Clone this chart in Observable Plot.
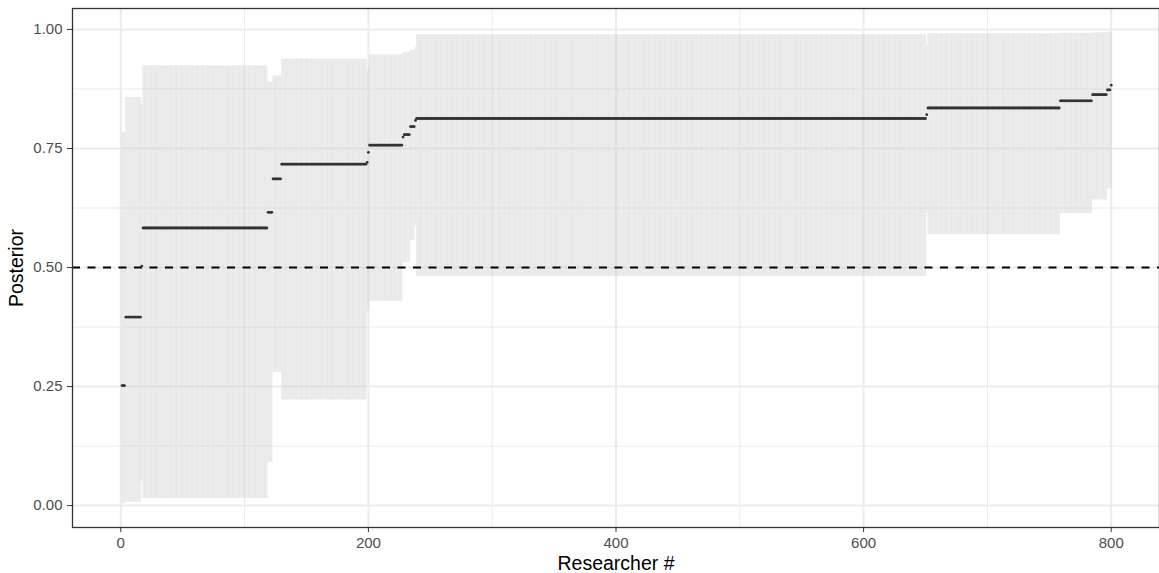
<!DOCTYPE html>
<html>
<head>
<meta charset="utf-8">
<script src="https://cdn.jsdelivr.net/npm/d3@7"></script>
<script src="https://cdn.jsdelivr.net/npm/@observablehq/plot@0.6"></script>
<style>
  html, body { margin: 0; padding: 0; background: #fff; }
  #chart svg { display: block; font-family: "Liberation Sans", Arial, Helvetica, sans-serif; }
</style>
</head>
<body>
<div id="chart"></div>
<script>
// Runs of researchers sharing the same posterior and interval
const runStart = [1, 4, 17, 18, 119, 123, 130, 199, 200, 201, 228, 229, 234, 238, 239, 651, 652, 759, 785, 797, 800];
const runEnd   = [3, 16, 17, 118, 122, 129, 198, 199, 200, 227, 228, 233, 237, 238, 650, 651, 758, 784, 796, 799, 800];
const runPosterior = [0.252, 0.396, 0.503, 0.583, 0.616, 0.686, 0.717, 0.721, 0.742, 0.757, 0.774, 0.779, 0.796, 0.809, 0.813, 0.821, 0.835, 0.850, 0.863, 0.873, 0.883];
const runLower = [0.004, 0.007, 0.050, 0.015, 0.091, 0.280, 0.222, 0.405, 0.410, 0.429, 0.510, 0.510, 0.557, 0.588, 0.481, 0.615, 0.569, 0.613, 0.642, 0.665, 0.665];
const runUpper = [0.784, 0.857, 0.842, 0.924, 0.889, 0.902, 0.938, 0.914, 0.921, 0.947, 0.952, 0.952, 0.957, 0.963, 0.989, 0.966, 0.991, 0.992, 0.993, 0.994, 0.995];

const xTicks = [0, 200, 400, 600, 800];
const xMinor = [100, 300, 500, 700];
const yTicks = [0, 0.25, 0.5, 0.75, 1];
const yMinor = [0.125, 0.375, 0.625, 0.875];
const threshold = [0.5];

const data = runStart.flatMap((s, i) =>
  d3.range(s, runEnd[i] + 1).map(r => ({
    researcher: r, posterior: runPosterior[i], lower: runLower[i], upper: runUpper[i]
  }))
);

const chart = Plot.plot({
  width: 1159,
  height: 573,
  marginLeft: 72,
  marginRight: 0,
  marginTop: 8,
  marginBottom: 46,
  x: { domain: [-39, 839] },
  y: { domain: [-0.046, 1.044] },
  marks: [
    Plot.gridX({ ticks: xMinor, stroke: "#ebebeb", strokeOpacity: 1, strokeWidth: 1 }),
    Plot.gridY({ ticks: yMinor, stroke: "#ebebeb", strokeOpacity: 1, strokeWidth: 1 }),
    Plot.gridX({ ticks: xTicks, stroke: "#ebebeb", strokeOpacity: 1, strokeWidth: 2 }),
    Plot.gridY({ ticks: yTicks, stroke: "#ebebeb", strokeOpacity: 1, strokeWidth: 2 }),
    Plot.ruleX(data, { x: "researcher", y1: "lower", y2: "upper", stroke: "#cfcfcf", strokeOpacity: 0.45, strokeWidth: 1.2 }),
    Plot.ruleY(threshold, { stroke: "black", strokeWidth: 1.9, strokeDasharray: "8,7.5" }),
    Plot.dot(data, { x: "researcher", y: "posterior", r: 1.4, fill: "#333", stroke: "none" }),
    Plot.frame({ stroke: "#333", strokeWidth: 1.3 }),
    Plot.axisX({ ticks: xTicks, tickSize: 5, tickPadding: 5, fontSize: 15, fill: "#4d4d4d", stroke: "#333", label: null }),
    Plot.axisY({ ticks: yTicks, tickFormat: d3.format(".2f"), tickSize: 5, tickPadding: 5, fontSize: 15, fill: "#4d4d4d", stroke: "#333", label: null }),
    Plot.text(["Researcher #"], { text: d => d, frameAnchor: "bottom", dy: 36, fontSize: 19.5, fill: "black", textAnchor: "middle", lineAnchor: "middle" }),
    Plot.text(["Posterior"], { text: d => d, frameAnchor: "left", dx: -56, rotate: -90, fontSize: 19.5, fill: "black", textAnchor: "middle", lineAnchor: "middle" })
  ]
});
document.getElementById("chart").appendChild(chart);
</script>
</body>
</html>
